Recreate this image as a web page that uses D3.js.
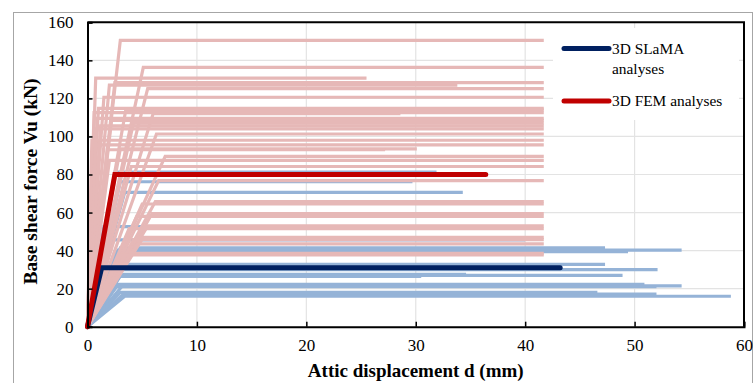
<!DOCTYPE html>
<html>
<head>
<meta charset="utf-8">
<script src="https://cdn.jsdelivr.net/npm/d3@7"></script>
<style>
  html, body { margin: 0; padding: 0; background: #fff; }
  svg { display: block; }
  svg text { font-family: "Liberation Serif", "DejaVu Serif", serif !important; fill: #000; }
</style>
</head>
<body>
<svg id="chart" width="755" height="383"></svg>
<script>
// Individual FEM analyses: [yield displacement (mm), Vu (kN), ultimate displacement (mm)]
const femRuns = [
  [3.0, 150.5, 41.7], [5.1, 136.3, 41.7], [0.75, 130.7, 25.5], [2.5, 128.3, 41.7],
  [2.0, 127.0, 33.8], [5.5, 125.1, 41.7], [1.5, 120.6, 41.7], [1.0, 114.8, 41.7],
  [3.5, 114.0, 41.7], [6.0, 112.0, 28.6], [0.9, 109.5, 41.7], [2.2, 108.5, 41.7],
  [4.2, 107.0, 41.7], [1.2, 105.6, 41.7], [6.3, 101.3, 41.7], [0.5, 95.6, 41.7],
  [3.0, 93.5, 30.1], [1.8, 93.0, 27.2], [7.1, 89.5, 41.7], [2.0, 87.4, 41.7],
  [4.0, 84.2, 41.7], [6.5, 76.8, 41.7], [6.2, 65.8, 41.7], [5.0, 64.5, 41.7],
  [5.9, 59.5, 41.7], [4.5, 58.0, 41.7], [5.5, 53.0, 41.7], [3.8, 51.5, 41.7],
  [5.1, 47.0, 41.7], [4.2, 45.8, 41.7], [4.6, 43.5, 41.7], [3.9, 38.6, 41.7],
  [3.0, 37.8, 41.7], [0.6, 112.5, 41.7], [0.8, 104.0, 41.7], [0.4, 98.0, 41.7]
];
// Individual SLaMA analyses: [yield displacement (mm), Vu (kN), ultimate displacement (mm)]
const slamaRuns = [
  [2.5, 81.2, 31.9], [3.0, 76.2, 29.7], [3.4, 70.6, 34.3], [1.5, 52.6, 38.0],
  [2.3, 45.6, 40.0], [3.0, 41.5, 47.3], [2.8, 40.2, 54.3], [2.5, 39.5, 49.4],
  [3.4, 32.8, 47.3], [3.0, 30.0, 52.1], [3.1, 27.5, 34.6], [3.0, 27.0, 48.9],
  [2.8, 26.5, 30.5], [2.8, 22.2, 50.9], [3.2, 21.5, 54.3], [2.6, 21.0, 52.0],
  [3.0, 18.0, 46.6], [3.3, 17.2, 52.0], [3.4, 16.0, 58.8]
];
// Mean curves
const femMean = [2.5, 80.0, 36.4];
const slamaMean = [1.3, 31.0, 43.2];

const xTicks = [0, 10, 20, 30, 40, 50, 60];
const yTicks = [0, 20, 40, 60, 80, 100, 120, 140, 160];
const xTitle = "Attic displacement d (mm)";
const yTitle = "Base shear force Vu (kN)";
const legendItems = [
  { lines: ["3D SLaMA", "analyses"], color: "#002060" },
  { lines: ["3D FEM analyses"], color: "#C00000" }
];

const serif = "'Liberation Serif', 'DejaVu Serif', serif";
const svg = d3.select("#chart");
const x = d3.scaleLinear().domain([0, 60]).range([87.5, 744]);
const y = d3.scaleLinear().domain([0, 160]).range([326.7, 22.3]);

// outer chart frame
svg.append("rect").attr("x", 13.5).attr("y", 12.5).attr("width", 739).attr("height", 390)
  .attr("fill", "#fff").attr("stroke", "#a6a6a6").attr("stroke-width", 1);

// gridlines
const grid = svg.append("g").attr("stroke", "#e3e3e3").attr("stroke-width", 1.2);
grid.selectAll(".gy").data(yTicks.slice(1, -1)).join("line")
  .attr("x1", x(0)).attr("x2", x(60)).attr("y1", d => y(d)).attr("y2", d => y(d));
grid.selectAll(".gx").data(xTicks.slice(1, -1)).join("line")
  .attr("y1", y(0)).attr("y2", y(160)).attr("x1", d => x(d)).attr("x2", d => x(d));

const curve = r => [[0, 0], [r[0], r[1]], [r[2], r[1]]];
const line = d3.line().x(d => x(d[0])).y(d => y(d[1]));

const plot = svg.append("g").attr("fill", "none").attr("stroke-linejoin", "miter");
plot.selectAll(".slama").data(slamaRuns).join("path")
  .attr("d", d => line(curve(d))).attr("stroke", "#95B3D7").attr("stroke-width", 3.2);
plot.selectAll(".fem").data(femRuns).join("path")
  .attr("d", d => line(curve(d))).attr("stroke", "#E6B8B7").attr("stroke-width", 3.2);
plot.append("path").attr("d", line(curve(slamaMean)))
  .attr("stroke", "#002060").attr("stroke-width", 5).attr("stroke-linecap", "round");
plot.append("path").attr("d", line(curve(femMean)))
  .attr("stroke", "#C00000").attr("stroke-width", 5).attr("stroke-linecap", "round");

// legend
const lg = svg.append("g");
lg.append("rect").attr("x", 553).attr("y", 28).attr("width", 186).attr("height", 92).attr("fill", "#fff");
const legendY = [48.5, 101];
legendItems.forEach((it, i) => {
  lg.append("line").attr("x1", 564).attr("x2", 609).attr("y1", legendY[i]).attr("y2", legendY[i])
    .attr("stroke", it.color).attr("stroke-width", 5).attr("stroke-linecap", "round");
  it.lines.forEach((t, j) => {
    lg.append("text").attr("x", 612).attr("y", legendY[i] + 5 + j * 20)
      .style("font-family", serif).attr("font-size", 15.4).text(t);
  });
});

// axes with inward ticks
const yAxis = svg.append("g").attr("transform", `translate(${x(0)},0)`)
  .call(d3.axisLeft(y).tickValues(yTicks).tickSize(-5).tickPadding(14).tickFormat(d3.format("d")));
const xAxis = svg.append("g").attr("transform", `translate(0,${y(0)})`)
  .call(d3.axisBottom(x).tickValues(xTicks).tickSize(-5).tickPadding(12).tickFormat(d3.format("d")));
[xAxis, yAxis].forEach(a => {
  a.attr("font-family", null);
  a.selectAll("text").attr("font-size", 17).style("font-family", serif);
  a.selectAll("line").attr("stroke", "#000").attr("stroke-width", 1.5);
  a.select(".domain").attr("stroke", "#000").attr("stroke-width", 2);
});
// plot box top and right edges
svg.append("path")
  .attr("d", `M${x(0)},${y(160)}H${x(60)}V${y(0)}`)
  .attr("fill", "none").attr("stroke", "#000").attr("stroke-width", 2);

// axis titles
svg.append("text").attr("x", (x(0) + x(60)) / 2).attr("y", 377).attr("text-anchor", "middle")
  .style("font-family", serif).attr("font-size", 19).attr("font-weight", "bold").text(xTitle);
svg.append("text").attr("transform", `translate(37,${(y(0) + y(160)) / 2 + 7}) rotate(-90)`)
  .style("font-family", serif).attr("text-anchor", "middle").attr("font-size", 19.5)
  .attr("font-weight", "bold").text(yTitle);
</script>
</body>
</html>
